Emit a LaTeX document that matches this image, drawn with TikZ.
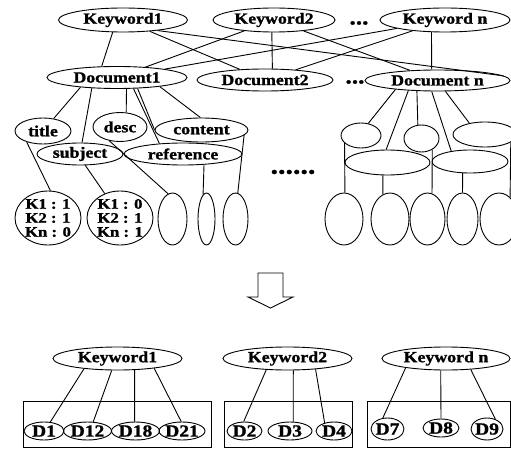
\documentclass[tikz,border=0pt]{standalone}
\usepackage{fontspec}
\setmainfont[FakeStretch=1.15, BoldFeatures={FakeBold=1.2}]{Liberation Serif}
\usetikzlibrary{shapes.geometric}
\begin{document}
\begin{tikzpicture}[x=1pt,y=-1pt,
  ell/.style={draw, ellipse, inner sep=0pt, line width=0.9pt},
  txt/.style={font=\bfseries\fontsize{15.5}{15.5}\selectfont, inner sep=0pt},
  ktxt/.style={font=\bfseries\fontsize{14.5}{14}\selectfont, inner sep=0pt, align=center},
  dtxt/.style={font=\bfseries\fontsize{17}{17}\selectfont, inner sep=0pt},
  dotstxt/.style={font=\bfseries\fontsize{22}{22}\selectfont, inner sep=0pt},
  ln/.style={line width=0.9pt}]
\useasboundingbox (0,0) rectangle (511,449);

% ---- keywords and documents
\node[ell, minimum width=129pt, minimum height=24pt, label={[txt]center:Keyword1}] (k1) at (123,20) {};
\node[ell, minimum width=122pt, minimum height=24pt, label={[txt]center:Keyword2}] (k2) at (274,20) {};
\node[ell, minimum width=130pt, minimum height=24pt, label={[txt]center:Keyword n}] (kn) at (445,20) {};
\node[dotstxt] (dots1) at (359,23) {...};
\node[ell, minimum width=140pt, minimum height=22pt, label={[txt]center:Document1}] (d1) at (117,77.5) {};
\node[ell, minimum width=136pt, minimum height=22pt, label={[txt]center:Document2}] (d2) at (265,80) {};
\node[ell, minimum width=145pt, minimum height=21pt, label={[txt]center:Document n}] (dn) at (437.5,80.5) {};
\node[dotstxt] (dots2) at (355,82) {...};

\draw[ln] (k1.230) -- (d1.144);
\draw[ln] (k1) -- (d2);
\draw[ln] (k1.343) -- (dn.4);
\draw[ln] (k2) -- (d1);
\draw[ln] (k2.260) -- (d2.57);
\draw[ln] (k2) -- (dn);
\draw[ln] (kn) -- (d1);
\draw[ln] (kn) -- (d2);
\draw[ln] (kn.222) -- (dn.118);

% ---- Document1 subtree
\node[ell, minimum width=56pt, minimum height=26pt, label={[txt]center:title}] (title) at (43,131) {};
\node[ell, minimum width=54pt, minimum height=29pt, label={[txt]center:desc}] (desc) at (120,127) {};
\node[ell, minimum width=93pt, minimum height=24pt, label={[txt]center:content}] (content) at (201.5,130) {};
\node[ell, minimum width=86pt, minimum height=22pt, label={[txt]center:subject}] (subject) at (80,154) {};
\node[ell, minimum width=118pt, minimum height=22pt, label={[txt]center:reference}] (reference) at (183,154) {};
\node[ell, minimum width=66pt, minimum height=54pt, label={[ktxt]center:K1 : 1\\K2 : 1\\Kn : 0}] (leafa) at (48,218) {};
\node[ell, minimum width=66pt, minimum height=54pt, label={[ktxt]center:K1 : 0\\K2 : 1\\Kn : 1}] (leafb) at (120,218) {};
\node[ell, minimum width=29pt, minimum height=52pt] (e3) at (172.5,219) {};
\node[ell, minimum width=17pt, minimum height=52pt] (e4) at (206.5,219) {};
\node[ell, minimum width=25pt, minimum height=52pt] (e5) at (235.5,219) {};

\draw[ln] (d1.195) -- (title);
\draw[ln] (d1.203) -- (subject.80);
\draw[ln] (d1.-50) -- (desc.67);
\draw[ln] (d1.-34) -- (reference.156);
\draw[ln] (d1.-28) -- (content.180);
\draw[ln] (d1.-12) -- (content.95);
\draw[ln] (title.214) -- (leafa.85);
\draw[ln] (subject.-65) -- (leafb.122);
\draw[ln] (desc.232) -- (e3.100);
\draw[ln] (reference.-27) -- (e4.98);
\draw[ln] (content.-7) -- (e5.85);

\node[font=\bfseries\fontsize{26}{26}\selectfont, inner sep=0pt] (dots3) at (293,172) {......};

% ---- Document n subtree
\node[ell, minimum width=40pt, minimum height=25pt] (na) at (361,135.5) {};
\node[ell, minimum width=35pt, minimum height=27pt] (nb) at (421.5,138.5) {};
\node[ell, minimum width=64pt, minimum height=25pt] (nc) at (485,134.5) {};
\node[ell, minimum width=85pt, minimum height=25pt] (nd) at (387.5,162.5) {};
\node[ell, minimum width=76pt, minimum height=23pt] (ne) at (470,161.5) {};
\node[ell, minimum width=38pt, minimum height=52pt] (l1) at (344,219) {};
\node[ell, minimum width=38pt, minimum height=52pt] (l2) at (390,219) {};
\node[ell, minimum width=35pt, minimum height=52pt] (l3) at (427.5,219) {};
\node[ell, minimum width=31pt, minimum height=52pt] (l4) at (462.5,219) {};
\node[ell, minimum width=38pt, minimum height=52pt] (l5) at (499,219) {};

\draw[ln] (dn.192) -- (na.59);
\draw[ln] (dn.199) -- (nd.96);
\draw[ln] (dn.207) -- (nb.105);
\draw[ln] (dn.242) -- (ne.151);
\draw[ln] (dn.-54) -- (nc.144);
\draw[ln] (na.205) -- (l1.88);
\draw[ln] (nd.250) -- (l2.106);
\draw[ln] (nb.-46) -- (l3.80);
\draw[ln] (ne.238) -- (l4.90);
\draw[ln] (nc.-17) -- (l5.63);

% ---- hollow arrow
\draw[ln] (258,273) -- (283,273) -- (283,297) -- (293,297) -- (270.5,308) -- (248,297) -- (258,297) -- cycle;

% ---- bottom: inverted index
\draw[ln] (23,401) rectangle (211,447);
\draw[ln] (224,401) rectangle (352,447);
\draw[ln] (367,401) rectangle (510,447);

\node[ell, minimum width=129pt, minimum height=23pt, label={[txt]center:Keyword1}] (bk1) at (117.5,358.5) {};
\node[ell, minimum width=129pt, minimum height=23pt, label={[txt]center:Keyword2}] (bk2) at (287.5,358.5) {};
\node[ell, minimum width=128pt, minimum height=23pt, label={[txt]center:Keyword n}] (bkn) at (446,358.5) {};

\node[ell, minimum width=40pt, minimum height=18pt, label={[dtxt]center:D1}] (b1) at (44,431) {};
\node[ell, minimum width=48pt, minimum height=18pt, label={[dtxt]center:D12}] (b12) at (87.5,431) {};
\node[ell, minimum width=48pt, minimum height=18pt, label={[dtxt]center:D18}] (b18) at (135.5,431) {};
\node[ell, minimum width=46pt, minimum height=18pt, label={[dtxt]center:D21}] (b21) at (182,431) {};
\node[ell, minimum width=35pt, minimum height=18pt, label={[dtxt]center:D2}] (b2) at (244.5,431) {};
\node[ell, minimum width=44pt, minimum height=18pt, label={[dtxt]center:D3}] (b3) at (290,431) {};
\node[ell, minimum width=36pt, minimum height=18pt, label={[dtxt]center:D4}] (b4) at (334,431) {};
\node[ell, minimum width=33pt, minimum height=22pt, label={[dtxt]center:D7}] (b7) at (387.5,429) {};
\node[ell, minimum width=36pt, minimum height=18pt, label={[dtxt]center:D8}] (b8) at (441,428) {};
\node[ell, minimum width=32pt, minimum height=22pt, label={[dtxt]center:D9}] (b9) at (487,429) {};

\draw[ln] (bk1.197) -- (b1.55);
\draw[ln] (bk1.244) -- (b12.58);
\draw[ln] (bk1.-34) -- (b18.95);
\draw[ln] (bk1.-15) -- (b21.95);
\draw[ln] (bk2.208) -- (b2.95);
\draw[ln] (bk2.-64) -- (b3.71);
\draw[ln] (bk2.-21) -- (b4.139);
\draw[ln] (bkn.193) -- (b7.113);
\draw[ln] (bkn.246) -- (b8.90);
\draw[ln] (bkn.-24) -- (b9.50);
\end{tikzpicture}
\end{document}
